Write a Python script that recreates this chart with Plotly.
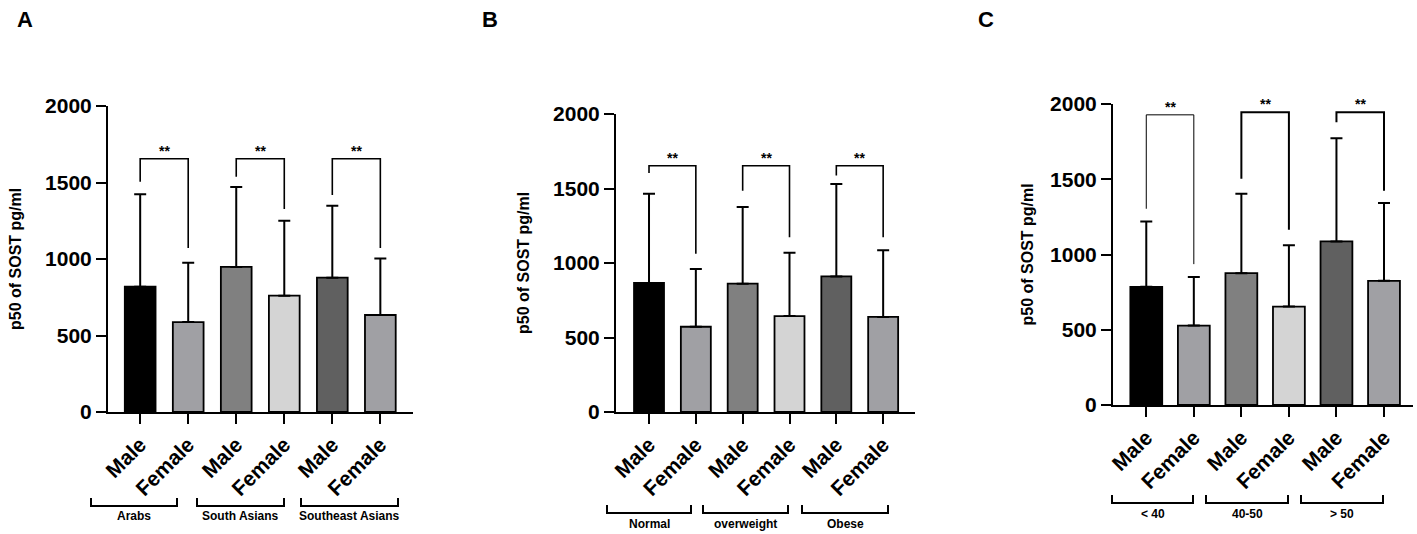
import plotly.graph_objects as go

W, H = 1417, 534

# ---------------- data ----------------
bar_labels = ["Male", "Female", "Male", "Female", "Male", "Female"]
bar_colors = ["#000000", "#a0a0a4", "#808080", "#d4d4d4", "#606060", "#a0a0a4"]

groups_a = ["Arabs", "South Asians", "Southeast Asians"]
means_a = [819, 588, 948, 760, 878, 634]
sd_a = [604, 388, 523, 490, 470, 370]
brk_h_a = [1655, 1655, 1655]
brk_left_a = [1505, 1538, 1418]
brk_right_a = [1072, 1327, 1072]

groups_b = ["Normal", "overweight", "Obese"]
means_b = [866, 572, 861, 644, 910, 638]
sd_b = [599, 388, 515, 425, 620, 447]
brk_h_b = [1653, 1653, 1653]
brk_left_b = [1604, 1485, 1588]
brk_right_b = [1062, 1172, 1172]

groups_c = ["< 40", "40-50", "> 50"]
means_c = [785, 528, 876, 654, 1087, 825]
sd_c = [435, 322, 528, 408, 685, 517]
brk_h_c = [1928, 1945, 1945]
brk_left_c = [1304, 1504, 1878]
brk_right_c = [936, 1164, 1424]

sig_text = "**"
y_title = "p50 of SOST pg/ml"
y_ticks = [0, 500, 1000, 1500, 2000]
panel_letters = ["A", "B", "C"]

# ---------------- layout geometry (pixels) ----------------
panels = [
    dict(means=means_a, sd=sd_a, groups=groups_a, bh=brk_h_a, bl=brk_left_a, br=brk_right_a,
         xpx=(108, 413), ypx=(412, 106), xrange=(-0.67, 5.68), bw=0.64,
         grp_px=[(91, 177), (197, 284), (301, 398)], grp_y=506, lab_y=516,
         title_x=15, letter=(25, 20), brw=[1.6, 1.6, 1.6]),
    dict(means=means_b, sd=sd_b, groups=groups_b, bh=brk_h_b, bl=brk_left_b, br=brk_right_b,
         xpx=(616, 915), ypx=(412, 114), xrange=(-0.705, 5.68), bw=0.64,
         grp_px=[(607, 691), (703, 788), (802, 888)], grp_y=513, lab_y=524,
         title_x=523, letter=(490, 20), brw=[1.6, 1.6, 1.6]),
    dict(means=means_c, sd=sd_c, groups=groups_c, bh=brk_h_c, bl=brk_left_c, br=brk_right_c,
         xpx=(1113, 1413), ypx=(405, 104), xrange=(-0.70, 5.61), bw=0.67,
         grp_px=[(1112, 1193), (1206, 1288), (1301, 1383)], grp_y=503, lab_y=514,
         title_x=1027, letter=(986, 20), brw=[1.0, 2.0, 2.0]),
]

FONT = "Liberation Sans, Arial, sans-serif"

def px_x(p):
    return p / W

def px_y(p):
    return 1 - p / H

fig = go.Figure()
shapes = []
annotations = []
layout_axes = {}

for i, P in enumerate(panels):
    sfx = "" if i == 0 else str(i + 1)
    xa, ya = "x" + sfx, "y" + sfx
    xs = list(range(len(P["means"])))
    fig.add_trace(go.Bar(
        x=xs, y=P["means"], xaxis=xa, yaxis=ya, width=P["bw"],
        marker=dict(color=bar_colors, line=dict(color="black", width=1.8)),
        error_y=dict(type="data", symmetric=False, array=P["sd"],
                     arrayminus=[0] * len(xs), color="black", thickness=2, width=6),
        showlegend=False, hoverinfo="skip",
    ))
    layout_axes["xaxis" + sfx] = dict(
        domain=[px_x(P["xpx"][0]), px_x(P["xpx"][1])], anchor=ya, automargin=False,
        range=list(P["xrange"]), tickmode="array", tickvals=xs, ticktext=bar_labels,
        tickangle=-45, ticks="outside", ticklen=10, tickwidth=2, tickcolor="black",
        showline=True, linecolor="black", linewidth=2, showgrid=False, zeroline=False,
        tickfont=dict(family=FONT, size=21, color="black", weight="bold"),
        fixedrange=True,
    )
    layout_axes["yaxis" + sfx] = dict(
        domain=[px_y(P["ypx"][0]), px_y(P["ypx"][1])], anchor=xa, automargin=False,
        range=[0, 2000], tickmode="array", tickvals=y_ticks,
        ticks="outside", ticklen=10, tickwidth=2, tickcolor="black",
        showline=True, linecolor="black", linewidth=2, showgrid=False, zeroline=False,
        tickfont=dict(family=FONT, size=21, color="black", weight="bold"),
        fixedrange=True,
    )
    # significance brackets
    for g in range(3):
        x0, x1 = 2 * g, 2 * g + 1
        h = P["bh"][g]
        shapes.append(dict(
            type="path", xref=xa, yref=ya,
            path=f"M {x0},{P['bl'][g]} L {x0},{h} L {x1},{h} L {x1},{P['br'][g]}",
            line=dict(color="black", width=P["brw"][g]),
        ))
        annotations.append(dict(
            x=(x0 + x1) / 2, y=h, xref=xa, yref=ya, text=sig_text, showarrow=False,
            xanchor="center", yanchor="bottom", yshift=-2,
            font=dict(family=FONT, size=14, color="black", weight="bold"),
        ))
    # group brackets under axis
    for g, (gx0, gx1) in enumerate(P["grp_px"]):
        yb = px_y(P["grp_y"])
        yt = px_y(P["grp_y"] - 8)
        shapes.append(dict(
            type="path", xref="paper", yref="paper",
            path=f"M {px_x(gx0)},{yt} L {px_x(gx0)},{yb} L {px_x(gx1)},{yb} L {px_x(gx1)},{yt}",
            line=dict(color="black", width=2),
        ))
        annotations.append(dict(
            x=px_x((gx0 + gx1) / 2), y=px_y(P["lab_y"]), xref="paper", yref="paper",
            text=P["groups"][g], showarrow=False, xanchor="center", yanchor="middle",
            font=dict(family=FONT, size=12, color="black", weight="bold"),
        ))
    # y-axis title
    annotations.append(dict(
        x=px_x(P["title_x"]), y=px_y((P["ypx"][0] + P["ypx"][1]) / 2),
        xref="paper", yref="paper", text=y_title, textangle=-90, showarrow=False,
        xanchor="center", yanchor="middle",
        font=dict(family=FONT, size=16, color="black", weight="bold"),
    ))
    # panel letter
    annotations.append(dict(
        x=px_x(P["letter"][0]), y=px_y(P["letter"][1]), xref="paper", yref="paper",
        text=panel_letters[i], showarrow=False, xanchor="center", yanchor="middle",
        font=dict(family=FONT, size=22, color="black", weight="bold"),
    ))

fig.update_layout(
    width=W, height=H, autosize=False,
    margin=dict(l=0, r=0, t=0, b=0, pad=0),
    paper_bgcolor="white", plot_bgcolor="white",
    shapes=shapes, annotations=annotations, bargap=0,
    **layout_axes,
)

fig.write_html(
    "out.html",
    config={"displayModeBar": False, "staticPlot": True},
    post_script="document.body.style.margin='0';document.body.style.overflow='hidden';",
)
